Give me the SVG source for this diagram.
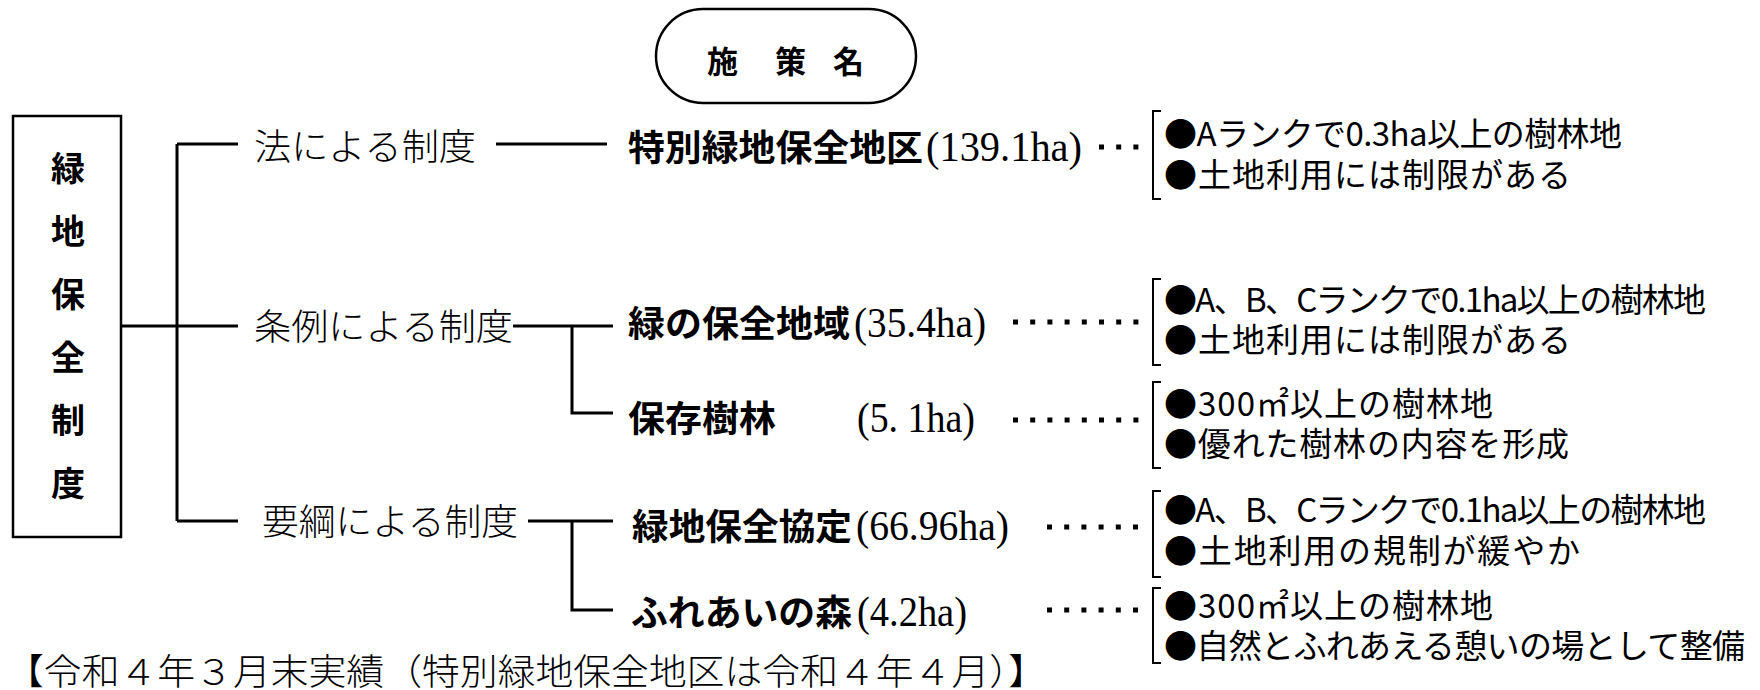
<svg xmlns="http://www.w3.org/2000/svg" width="1760" height="690" viewBox="0 0 1760 690">
<style>
.bg{fill:#fff}
.frame{fill:none;stroke:#000;stroke-width:2.5}
.ln{fill:none;stroke:#000;stroke-width:3}
.br{fill:none;stroke:#000;stroke-width:2}
.dots{fill:none;stroke:#000;stroke-width:5;stroke-dasharray:5 12.2}
.g{font-family:"Noto Sans CJK JP","Noto Sans CJK SC",sans-serif;font-weight:700;fill:#000}
.m{font-family:"Noto Sans CJK JP","Noto Sans CJK SC",sans-serif;font-weight:300;font-size:36px;fill:#000}
.num{font-family:"Liberation Serif",serif;font-size:42px;fill:#000}
.note{font-family:"Noto Sans CJK JP","Noto Sans CJK SC",sans-serif;font-size:33px;fill:#000}
.lbl{font-size:36px}
</style>
<rect class="bg" x="0" y="0" width="1760" height="690"/>

<g id="connectors">
  <path class="ln" d="M121 326H238"/>
  <path class="ln" d="M177 144V521"/>
  <path class="ln" d="M177 144H238"/>
  <path class="ln" d="M177 521H238"/>
  <path class="ln" d="M496 144H607"/>
  <path class="ln" d="M513 326H613"/>
  <path class="ln" d="M572 326V413H613"/>
  <path class="ln" d="M528 521H613"/>
  <path class="ln" d="M572 521V610H613"/>
  <path class="dots" d="M1099 147H1139"/>
  <path class="dots" d="M1013 322H1139"/>
  <path class="dots" d="M1013 420H1139"/>
  <path class="dots" d="M1047 527H1139"/>
  <path class="dots" d="M1047 610H1139"/>
</g>

<g id="header">
  <rect class="frame" x="656" y="9" width="260" height="94" rx="47"/>
  <text class="g" font-size="31" x="707 775 833" y="73">施策名</text>
</g>

<g id="root">
  <rect class="frame" x="13" y="116" width="108" height="421"/>
  <text class="g" font-size="34" text-anchor="middle" x="68" y="181">緑</text>
  <text class="g" font-size="34" text-anchor="middle" x="68" y="244">地</text>
  <text class="g" font-size="34" text-anchor="middle" x="68" y="307">保</text>
  <text class="g" font-size="34" text-anchor="middle" x="68" y="370">全</text>
  <text class="g" font-size="34" text-anchor="middle" x="68" y="433">制</text>
  <text class="g" font-size="34" text-anchor="middle" x="68" y="496">度</text>
</g>

<g id="cat-law"><text class="m" x="254" y="160" textLength="222" lengthAdjust="spacingAndGlyphs">法による制度</text></g>
<g id="cat-ordinance"><text class="m" x="254" y="340" textLength="259" lengthAdjust="spacingAndGlyphs">条例による制度</text></g>
<g id="cat-guideline"><text class="m" x="262" y="535" textLength="256" lengthAdjust="spacingAndGlyphs">要綱による制度</text></g>

<g id="m-special">
  <text class="g lbl" x="628" y="161" textLength="295" lengthAdjust="spacingAndGlyphs">特別緑地保全地区</text>
  <text class="num" x="926" y="161" textLength="156" lengthAdjust="spacingAndGlyphs">(139.1ha)</text>
</g>
<g id="m-green-area">
  <text class="g lbl" x="628" y="337" textLength="222" lengthAdjust="spacingAndGlyphs">緑の保全地域</text>
  <text class="num" x="854" y="337" textLength="132" lengthAdjust="spacingAndGlyphs">(35.4ha)</text>
</g>
<g id="m-trees">
  <text class="g lbl" x="628" y="432" textLength="148" lengthAdjust="spacingAndGlyphs">保存樹林</text>
  <text class="num" x="857" y="432" textLength="118" lengthAdjust="spacingAndGlyphs">(5. 1ha)</text>
</g>
<g id="m-agreement">
  <text class="g lbl" x="632" y="540" textLength="220" lengthAdjust="spacingAndGlyphs">緑地保全協定</text>
  <text class="num" x="856" y="540" textLength="153" lengthAdjust="spacingAndGlyphs">(66.96ha)</text>
</g>
<g id="m-forest">
  <text class="g lbl" x="631" y="626" textLength="221" lengthAdjust="spacingAndGlyphs">ふれあいの森</text>
  <text class="num" x="857" y="626" textLength="110" lengthAdjust="spacingAndGlyphs">(4.2ha)</text>
</g>

<g id="n-special">
  <path class="br" d="M1161 111H1153V199H1161"/>
  <text class="note" x="1164" y="146" textLength="458" lengthAdjust="spacing">●Aランクで0.3ha以上の樹林地</text>
  <text class="note" x="1164" y="187" textLength="407" lengthAdjust="spacing">●土地利用には制限がある</text>
</g>
<g id="n-green-area">
  <path class="br" d="M1161 279H1153V365H1161"/>
  <text class="note" x="1164" y="312" textLength="542" lengthAdjust="spacing">●A、B、Cランクで0.1ha以上の樹林地</text>
  <text class="note" x="1164" y="352" textLength="407" lengthAdjust="spacing">●土地利用には制限がある</text>
</g>
<g id="n-trees">
  <path class="br" d="M1161 382H1153V468H1161"/>
  <text class="note" x="1164" y="416" textLength="329" lengthAdjust="spacing">●300㎡以上の樹林地</text>
  <text class="note" x="1164" y="456" textLength="405" lengthAdjust="spacing">●優れた樹林の内容を形成</text>
</g>
<g id="n-agreement">
  <path class="br" d="M1161 491H1153V577H1161"/>
  <text class="note" x="1164" y="522" textLength="542" lengthAdjust="spacing">●A、B、Cランクで0.1ha以上の樹林地</text>
  <text class="note" x="1164" y="563" textLength="416" lengthAdjust="spacing">●土地利用の規制が緩やか</text>
</g>
<g id="n-forest">
  <path class="br" d="M1161 588H1153V663H1161"/>
  <text class="note" x="1164" y="618" textLength="329" lengthAdjust="spacing">●300㎡以上の樹林地</text>
  <text class="note" x="1164" y="658" textLength="581" lengthAdjust="spacing">●自然とふれあえる憩いの場として整備</text>
</g>

<g id="caption">
  <text class="m" x="6" y="685" textLength="1040" lengthAdjust="spacingAndGlyphs">【令和４年３月末実績（特別緑地保全地区は令和４年４月）】</text>
</g>
</svg>
